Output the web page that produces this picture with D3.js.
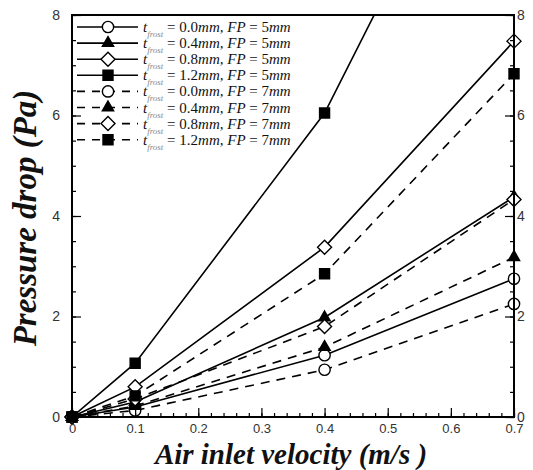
<!DOCTYPE html>
<html lang="en">
<head>
<meta charset="UTF-8">
<title>Pressure drop vs air inlet velocity</title>
<script src="https://d3js.org/d3.v7.min.js"></script>
<style>
  body { margin: 0; padding: 0; background: #fff; }
  .tick-label { font-family: 'Liberation Sans', Arial, sans-serif; font-size: 14px; fill: #333; }
  .title { font-family: 'Liberation Serif', 'Times New Roman', serif; font-weight: bold; font-style: italic; fill: #111; }
  .legend-text { font-family: 'Liberation Serif', 'Times New Roman', serif; font-size: 15px; fill: #111; }
</style>
</head>
<body>
<script>
// data
var velocity = [0, 0.1, 0.4, 0.7];
var fp5_t00 = [0, 0.20, 1.23, 2.75];
var fp5_t04 = [0, 0.30, 1.98, 4.38];
var fp5_t08 = [0, 0.60, 3.38, 7.48];
var fp5_t12 = [0, 1.07, 6.05, 13.5];
var fp7_t00 = [0, 0.13, 0.94, 2.25];
var fp7_t04 = [0, 0.22, 1.39, 3.18];
var fp7_t08 = [0, 0.36, 1.80, 4.33];
var fp7_t12 = [0, 0.42, 2.85, 6.83];
var xTicks = [0, 0.1, 0.2, 0.3, 0.4, 0.5, 0.6, 0.7];
var yTicks = [0, 2, 4, 6, 8];

var series = [
  { t: "0.0", fp: "5", vals: fp5_t00, marker: "circle", dashed: false },
  { t: "0.4", fp: "5", vals: fp5_t04, marker: "triangle", dashed: false },
  { t: "0.8", fp: "5", vals: fp5_t08, marker: "diamond", dashed: false },
  { t: "1.2", fp: "5", vals: fp5_t12, marker: "square", dashed: false },
  { t: "0.0", fp: "7", vals: fp7_t00, marker: "circle", dashed: true },
  { t: "0.4", fp: "7", vals: fp7_t04, marker: "triangle", dashed: true },
  { t: "0.8", fp: "7", vals: fp7_t08, marker: "diamond", dashed: true },
  { t: "1.2", fp: "7", vals: fp7_t12, marker: "square", dashed: true }
];

var W = 533, H = 470;
var plotL = 72, plotR = 514, plotT = 15, plotB = 417;

var svg = d3.select("body").append("svg")
  .attr("width", W)
  .attr("height", H);

var x = d3.scaleLinear().domain([0, 0.7]).range([plotL, plotR]);
var y = d3.scaleLinear().domain([0, 8]).range([plotB, plotT]);

svg.append("clipPath").attr("id", "plot-clip")
  .append("rect")
  .attr("x", plotL).attr("y", plotT)
  .attr("width", plotR - plotL).attr("height", plotB - plotT);

function markerSymbol(type) {
  if (type === "circle") return d3.symbol().type(d3.symbolCircle).size(100)();
  if (type === "triangle") return d3.symbol().type(d3.symbolTriangle).size(55)();
  if (type === "square") return d3.symbol().type(d3.symbolSquare).size(100)();
  return "M0,-7L7,0L0,7L-7,0Z";
}
function markerFill(type) {
  return (type === "circle" || type === "diamond") ? "#fff" : "#000";
}

var line = d3.line()
  .x(function(d) { return x(d[0]); })
  .y(function(d) { return y(d[1]); });

var plot = svg.append("g").attr("clip-path", "url(#plot-clip)");

series.forEach(function(s) {
  var pts = velocity.map(function(v, i) { return [v, s.vals[i]]; });
  plot.append("path")
    .datum(pts)
    .attr("d", line)
    .attr("fill", "none")
    .attr("stroke", "#000")
    .attr("stroke-width", 1.6)
    .attr("stroke-dasharray", s.dashed ? "9,7" : null);
});

var markLayer = svg.append("g");
series.forEach(function(s) {
  velocity.forEach(function(v, i) {
    if (s.vals[i] > 8) return;
    markLayer.append("path")
      .attr("d", markerSymbol(s.marker))
      .attr("transform", "translate(" + x(v) + "," + y(s.vals[i]) + ")")
      .attr("fill", markerFill(s.marker))
      .attr("stroke", "#000")
      .attr("stroke-width", 1.4);
  });
});

// axes, ticks pointing inward
var xMinor = d3.range(0, 0.7001, 0.02);
var yMinor = d3.range(0, 8.001, 0.5);

var axes = svg.append("g");
axes.append("g")
  .attr("transform", "translate(0," + plotB + ")")
  .call(d3.axisBottom(x).tickValues(xMinor).tickSize(-4).tickFormat(""))
  .call(function(g) { g.select(".domain").remove(); });
axes.append("g")
  .attr("transform", "translate(0," + plotB + ")")
  .call(d3.axisBottom(x).tickValues(xTicks).tickSize(-9).tickPadding(7)
    .tickFormat(function(d) { return d === 0 ? "0" : d3.format(".1f")(d); }))
  .call(function(g) {
    g.select(".domain").remove();
    g.selectAll("text").attr("class", "tick-label").attr("fill", null).style("font-size", "13px");
  });

axes.append("g")
  .attr("transform", "translate(" + plotL + ",0)")
  .call(d3.axisLeft(y).tickValues(yMinor).tickSize(-4).tickFormat(""))
  .call(function(g) { g.select(".domain").remove(); });
axes.append("g")
  .attr("transform", "translate(" + plotL + ",0)")
  .call(d3.axisLeft(y).tickValues(yTicks).tickSize(-9).tickPadding(12).tickFormat(d3.format("d")))
  .call(function(g) {
    g.select(".domain").remove();
    g.selectAll("text").attr("class", "tick-label").attr("fill", null);
  });

axes.append("g")
  .attr("transform", "translate(" + plotR + ",0)")
  .call(d3.axisRight(y).tickValues(yMinor).tickSize(-4).tickFormat(""))
  .call(function(g) { g.select(".domain").remove(); });
axes.append("g")
  .attr("transform", "translate(" + plotR + ",0)")
  .call(d3.axisRight(y).tickValues(yTicks).tickSize(-9).tickPadding(3).tickFormat(d3.format("d")))
  .call(function(g) {
    g.select(".domain").remove();
    g.selectAll("text").attr("class", "tick-label").attr("fill", null);
  });

axes.selectAll("line").attr("stroke", "#000").attr("stroke-width", 1.2);

// frame
svg.append("rect")
  .attr("x", plotL).attr("y", plotT)
  .attr("width", plotR - plotL).attr("height", plotB - plotT)
  .attr("fill", "none")
  .attr("stroke", "#000")
  .attr("stroke-width", 2);

// titles
svg.append("text")
  .attr("class", "title")
  .attr("x", 291).attr("y", 464)
  .attr("text-anchor", "middle")
  .style("font-size", "29px")
  .text("Air inlet velocity (m/s )");

svg.append("text")
  .attr("class", "title")
  .attr("transform", "translate(36,218) rotate(-90)")
  .attr("text-anchor", "middle")
  .style("font-size", "33px")
  .text("Pressure drop (Pa)");

// legend
var legend = svg.append("g");
series.forEach(function(s, i) {
  var ly = 27 + i * 16.1;
  var row = legend.append("g").attr("transform", "translate(0," + ly + ")");
  row.append("line")
    .attr("x1", 77).attr("x2", 138)
    .attr("y1", 0).attr("y2", 0)
    .attr("stroke", "#000")
    .attr("stroke-width", 1.6)
    .attr("stroke-dasharray", s.dashed ? "8,7" : null);
  row.append("path")
    .attr("d", markerSymbol(s.marker))
    .attr("transform", "translate(108,0)")
    .attr("fill", markerFill(s.marker))
    .attr("stroke", "#000")
    .attr("stroke-width", 1.4);
  var t = row.append("text").attr("class", "legend-text").attr("x", 143).attr("y", 5);
  t.append("tspan").style("font-style", "italic").text("t");
  t.append("tspan").attr("dy", 5).style("font-size", "9px").style("font-style", "italic").attr("fill", "#888").text("frost");
  t.append("tspan").attr("dy", -5).text(" = " + s.t);
  t.append("tspan").style("font-style", "italic").text("mm");
  t.append("tspan").text(", ");
  t.append("tspan").style("font-style", "italic").text("FP");
  t.append("tspan").text(" = " + s.fp);
  t.append("tspan").style("font-style", "italic").text("mm");
});
</script>
</body>
</html>
